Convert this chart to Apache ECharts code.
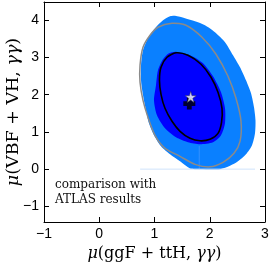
<!DOCTYPE html>
<html><head><meta charset="utf-8">
<script src="https://cdn.jsdelivr.net/npm/echarts@6/dist/echarts.min.js"></script>
<style>html,body{margin:0;padding:0;background:#fff}#c{width:270px;height:263px}</style>
</head><body><div id="c"></div>
<script>
const xTicks = [-1, 0, 1, 2, 3];
const yTicks = [-1, 0, 1, 2, 3, 4];
const xTitle = ['μ', '(ggF + ttH, ', 'γγ', ')'];
const yTitle = ['μ', '(VBF + VH, ', 'γγ', ')'];
const noteLines = ['comparison with', 'ATLAS results'];

// 2 sigma region (light blue)
const region2Sigma = [
  [1.371,4.121],[1.552,4.054],[1.733,3.973],[1.914,3.866],[2.095,3.677],[2.276,3.409],
  [2.421,3.059],[2.548,2.737],[2.656,2.387],[2.747,2.038],[2.801,1.661],[2.828,1.312],
  [2.819,0.962],[2.765,0.640],[2.656,0.398],[2.511,0.210],[2.367,0.090],[2.186,0.0],
  [1.824,0.0],[1.643,0.02],[1.462,0.21],[1.281,0.398],[1.118,0.613],[0.991,0.909],
  [0.900,1.231],[0.846,1.581],[0.792,1.984],[0.756,2.387],[0.756,2.790],[0.792,3.194],
  [0.882,3.516],[1.009,3.785],[1.154,4.0],[1.281,4.108]
];
// 1 sigma region (dark blue)
const region1Sigma = [
  [1.389,3.153],[1.643,3.059],[1.878,2.844],[2.059,2.495],[2.204,2.065],[2.276,1.634],
  [2.276,1.231],[2.204,0.909],[2.059,0.720],[1.824,0.667],[1.606,0.720],[1.389,0.855],
  [1.190,1.097],[1.045,1.446],[0.991,1.849],[1.027,2.253],[1.063,2.656],[1.154,2.952],
  [1.262,3.113]
];
// ATLAS 1 sigma contour (black)
const contourBlack = [
  [1.389,3.126],[1.606,3.059],[1.842,2.817],[2.023,2.468],[2.149,2.065],[2.222,1.634],
  [2.213,1.258],[2.149,0.962],[2.005,0.801],[1.824,0.761],[1.643,0.828],[1.462,1.016],
  [1.317,1.285],[1.190,1.634],[1.118,2.011],[1.090,2.387],[1.118,2.737],[1.226,3.005]
];
// ATLAS 2 sigma contour (gray)
const contourGray = [
  [1.317,3.919],[1.570,3.866],[1.860,3.543],[2.113,3.086],[2.330,2.495],[2.475,1.903],
  [2.566,1.285],[2.548,0.747],[2.439,0.425],[2.240,0.183],[2.005,0.062],[1.733,0.129],
  [1.462,0.344],[1.190,0.559],[1.009,0.909],[0.882,1.392],[0.792,1.849],[0.738,2.333],
  [0.738,2.790],[0.792,3.274],[0.919,3.597],[1.063,3.812]
];
const bestFit = [[1.655, 1.94]];
const atlasFit = [[1.63, 1.76]];
const zeroLine = [[0.74, 0], [2.82, 0]];
const seamLine = [[1.81, 0], [1.81, 0.62]];

const chart = echarts.init(document.getElementById('c'), null, {renderer: 'canvas'});

function polySeries(pts, style, z) {
  return {
    type: 'custom', coordinateSystem: 'cartesian2d', data: pts, z: z, silent: true,
    renderItem: function (params, api) {
      if (params.dataIndex !== 0) return null;
      return {type: 'polygon', shape: {points: pts.map(p => api.coord(p)), smooth: 0.25}, style: style};
    }
  };
}
const minus = v => String(v).replace('-', '\u2212');
const richOf = size => ({
  i: {fontFamily: 'DejaVu Serif', fontStyle: 'italic', fontSize: size, color: '#000'},
  n: {fontFamily: 'DejaVu Serif', fontSize: size, color: '#000'}
});
const fmtTitle = t => '{i|' + t[0] + '}{n|' + t[1] + '}{i|' + t[2] + '}{n|' + t[3] + '}';
const axLine = {show: true, onZero: false, lineStyle: {color: '#000', width: 1}};
const axTick = {show: true, inside: true, length: 5, lineStyle: {color: '#000', width: 1}};
const axLabel = {fontFamily: 'Liberation Sans', fontSize: 14, color: '#000', formatter: minus};

chart.setOption({
  animation: false,
  grid: {left: 44, right: 5, top: 2, bottom: 41, containLabel: false, outerBoundsMode: 'none'},
  xAxis: [
    {type: 'value', min: xTicks[0], max: xTicks[xTicks.length - 1], interval: 1, position: 'bottom',
     axisLine: axLine, axisTick: axTick, splitLine: {show: false},
     axisLabel: Object.assign({margin: 5}, axLabel),
     name: fmtTitle(xTitle), nameLocation: 'middle', nameGap: 22,
     nameTextStyle: {rich: richOf(16)}},
    {type: 'value', min: xTicks[0], max: xTicks[xTicks.length - 1], interval: 1, position: 'top',
     axisLine: axLine, axisTick: axTick, splitLine: {show: false}, axisLabel: {show: false}}
  ],
  yAxis: [
    {type: 'value', min: -1.42, max: 4.49, position: 'left',
     axisLine: axLine, splitLine: {show: false},
     axisTick: Object.assign({customValues: yTicks}, axTick),
     axisLabel: Object.assign({margin: 5, customValues: yTicks}, axLabel),
     name: fmtTitle(yTitle), nameLocation: 'middle', nameGap: 22, nameRotate: 90, nameMoveOverlap: false,
     nameTextStyle: {rich: richOf(17.5)}},
    {type: 'value', min: -1.42, max: 4.49, position: 'right',
     axisLine: axLine, splitLine: {show: false},
     axisTick: Object.assign({customValues: yTicks}, axTick),
     axisLabel: {show: false}}
  ],
  graphic: [
    {type: 'text', left: 55, top: 177, style: {text: noteLines.join('\n'), fontFamily: 'DejaVu Serif', fontSize: 12, lineHeight: 15, fill: '#111'}}
  ],
  series: [
    polySeries(region2Sigma, {fill: '#0a80ff', stroke: null}, 1),
    polySeries(region1Sigma, {fill: '#0000ff', stroke: null}, 2),
    {type: 'line', data: seamLine, symbol: 'none', lineStyle: {color: '#3d96ff', width: 0.8}, z: 3, silent: true},
    {type: 'line', data: zeroLine, symbol: 'none', lineStyle: {color: '#cfe3fb', width: 1}, z: 3, silent: true},
    polySeries(contourGray, {fill: 'none', stroke: '#8a8a8a', lineWidth: 1.5}, 4),
    polySeries(contourBlack, {fill: 'none', stroke: '#000', lineWidth: 1.6}, 4),
    {type: 'scatter', data: atlasFit, symbol: 'path://M3,0H7V3H10V7H7V10H3V7H0V3H3Z', symbolSize: 12,
     itemStyle: {color: '#000'}, z: 5, silent: true},
    {type: 'scatter', data: bestFit, symbol: 'path://M50,0L61,35L98,35L68,57L79,91L50,70L21,91L32,57L2,35L39,35Z', symbolSize: 11,
     itemStyle: {color: '#fff', borderColor: '#444', borderWidth: 0.6}, z: 6, silent: true}
  ]
});
</script></body></html>
